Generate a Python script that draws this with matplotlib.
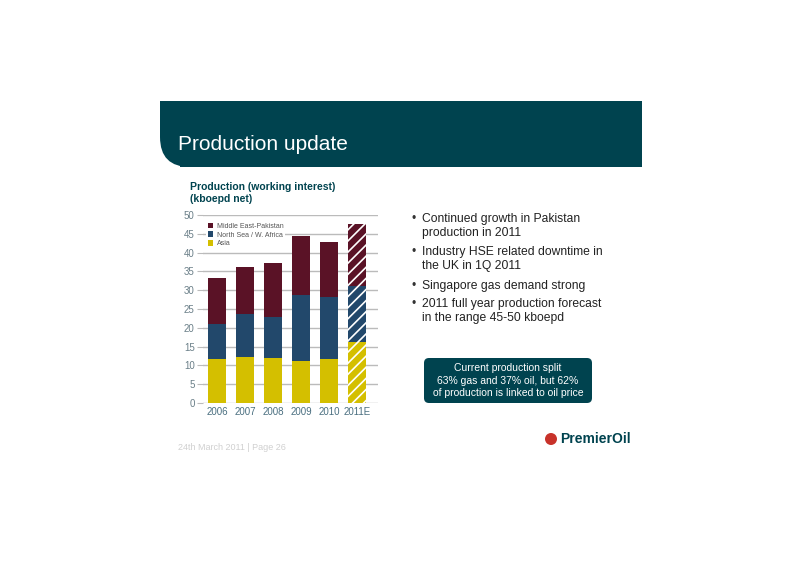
import matplotlib.pyplot as plt
from matplotlib.patches import FancyBboxPatch, Circle
import numpy as np

YEARS = ['2006', '2007', '2008', '2009', '2010', '2011E']
ASIA = [11.7, 12.3, 11.9, 11.3, 11.7, 16.2]
NORTH_SEA = [9.2, 11.5, 10.9, 17.3, 16.5, 14.9]
MIDDLE_EAST = [12.3, 12.4, 14.5, 15.7, 14.7, 16.5]
SERIES = ['Middle East-Pakistan', 'North Sea / W. Africa', 'Asia']
BULLETS = ['Continued growth in Pakistan\nproduction in 2011',
           'Industry HSE related downtime in\nthe UK in 1Q 2011',
           'Singapore gas demand strong',
           '2011 full year production forecast\nin the range 45-50 kboepd']

TEAL = '#00434f'
C_ASIA, C_NS, C_ME = '#d4bf00', '#22486b', '#5a1226'
W, H = 800, 565

fig = plt.figure(figsize=(8, 5.65), dpi=100)
plt.rcParams['font.family'] = ['Liberation Sans', 'DejaVu Sans']
plt.rcParams['hatch.color'] = 'white'
plt.rcParams['hatch.linewidth'] = 1.2


def fx(x):
    return x / W


def fy(y):
    return 1 - y / H


# header banner with rounded bottom-left corner
bg = fig.add_axes([0, 0, 1, 1])
bg.set_xlim(0, W)
bg.set_ylim(H, 0)
bg.axis('off')
bg.add_patch(FancyBboxPatch((180, 101), 462, 66, boxstyle='square,pad=0', fc=TEAL, ec='none'))
bg.add_patch(FancyBboxPatch((160, 101), 40, 30, boxstyle='square,pad=0', fc=TEAL, ec='none'))
bg.add_patch(FancyBboxPatch((160, 101), 60, 66, boxstyle='round,pad=0,rounding_size=30', fc=TEAL, ec='none'))
bg.text(178, 145, 'Production update', color='white', fontsize=15, va='center')
bg.text(190, 187, 'Production (working interest)', color=TEAL, fontsize=7.5, fontweight='bold', va='center')
bg.text(190, 199, '(kboepd net)', color=TEAL, fontsize=7.5, fontweight='bold', va='center')

for txt, y in zip(BULLETS, [213, 246, 280, 298]):
    bg.text(411, y, '\u2022', color='#333333', fontsize=8.7, va='top')
    bg.text(422, y, txt, color='#222222', fontsize=8.7, va='top', linespacing=1.25)

bg.add_patch(FancyBboxPatch((424, 358), 168, 45, boxstyle='round,pad=0,rounding_size=5', fc=TEAL, ec='none'))
bg.text(508, 380.5, 'Current production split\n63% gas and 37% oil, but 62%\nof production is linked to oil price',
        color='white', fontsize=7.5, ha='center', va='center', linespacing=1.3)

bg.text(178, 447, '24th March 2011 | Page 26', color='#d0d0d0', fontsize=6.5, va='center')
bg.add_patch(Circle((551, 439), 6, fc='#c8322a', ec='none'))
bg.text(560, 439, 'PremierOil', color=TEAL, fontsize=10, fontweight='bold', va='center')

# chart
ax = fig.add_axes([fx(203), fy(403), fx(378 - 203), (403 - 215) / H])
x = np.arange(len(YEARS))
hatch = [''] * 5 + ['///']
b1 = ax.bar(x, ASIA, 0.65, color=C_ASIA, hatch=hatch, linewidth=0, label=SERIES[2])
b2 = ax.bar(x, NORTH_SEA, 0.65, bottom=ASIA, color=C_NS, hatch=hatch, linewidth=0, label=SERIES[1])
bot = np.array(ASIA) + np.array(NORTH_SEA)
b3 = ax.bar(x, MIDDLE_EAST, 0.65, bottom=bot, color=C_ME, hatch=hatch, linewidth=0, label=SERIES[0])
ax.set_xlim(-0.5, 5.75)
ax.set_ylim(0, 50)
ax.set_yticks(range(0, 51, 5))
ax.set_xticks(x, YEARS)
ax.yaxis.grid(True, color='#bbbbbb', linewidth=1)
ax.set_axisbelow(True)
for s in ax.spines.values():
    s.set_visible(False)
ax.tick_params(axis='y', length=4, color='#bbbbbb', labelsize=7, labelcolor='#6a7f88', pad=2)
ax.tick_params(axis='x', length=0, labelsize=7, labelcolor='#4a6f80', pad=3)
leg = ax.legend(handles=[b3, b2, b1], loc='upper left', bbox_to_anchor=(0.0, 0.985), frameon=True,
                fontsize=5, handlelength=0.8, handleheight=0.8, handletextpad=0.5,
                labelspacing=0.25, borderpad=0.2, edgecolor='none', facecolor='white', framealpha=1)
for h in leg.legend_handles:
    h.set_hatch('')
for t in leg.get_texts():
    t.set_color('#555555')

fig.savefig('out.png', dpi=100)
